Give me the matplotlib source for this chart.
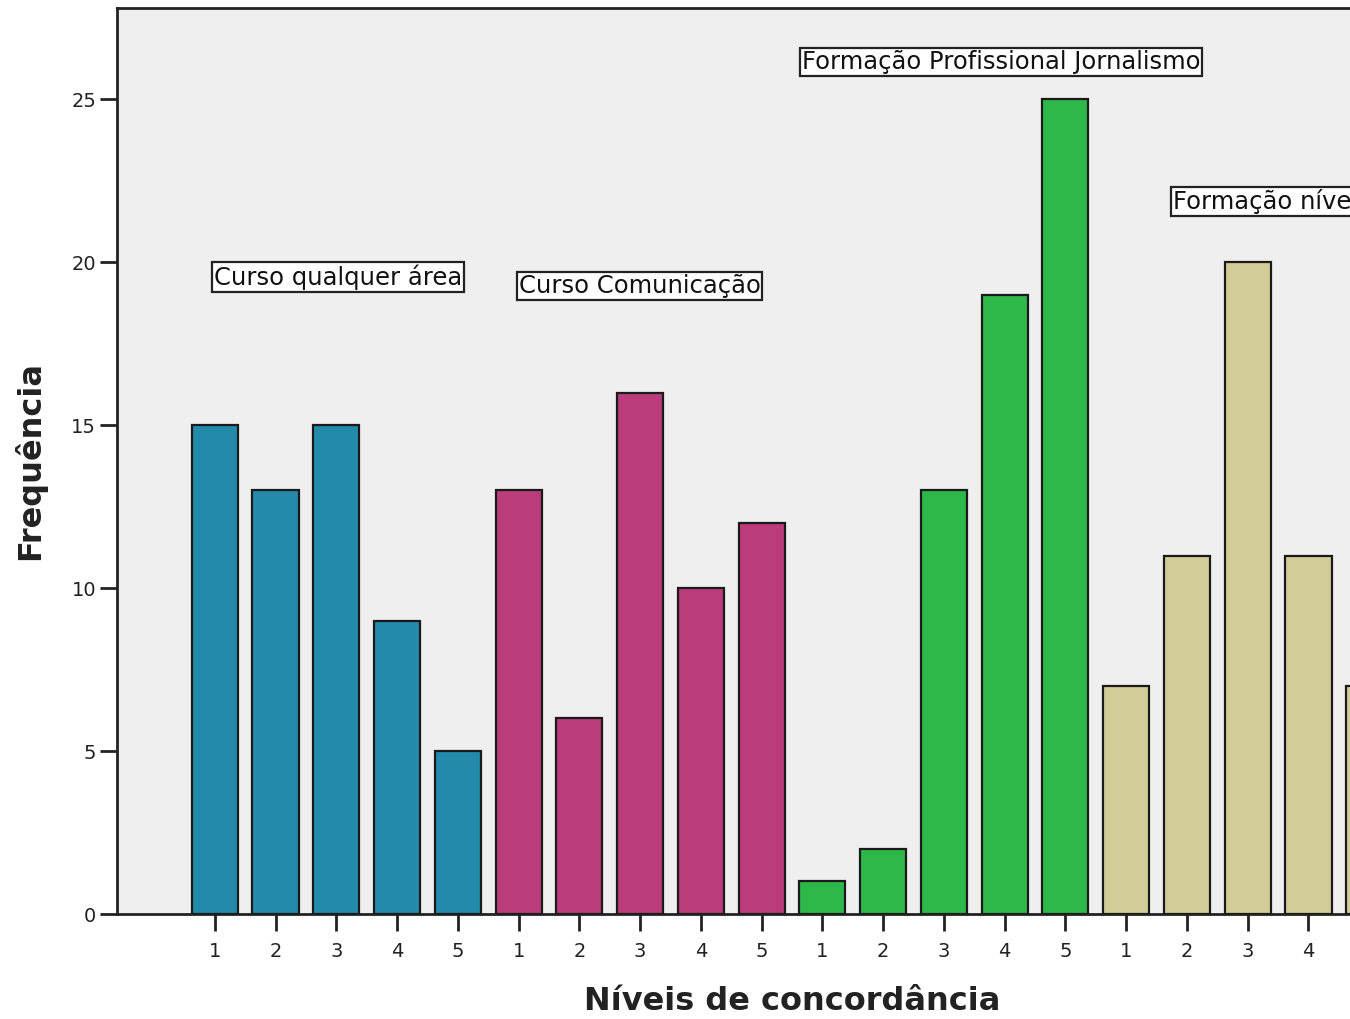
import matplotlib
matplotlib.use("Agg")
import matplotlib.pyplot as plt
import numpy as np

# Frequency of each agreement level (1-5) for every training group
levels = ["1", "2", "3", "4", "5"]
groups = [
    "Curso qualquer área",
    "Curso Comunicação",
    "Formação Profissional Jornalismo",
    "Formação nível superior",
]
freq_qualquer_area = [15, 13, 15, 9, 5]
freq_comunicacao = [13, 6, 16, 10, 12]
freq_jornalismo = [1, 2, 13, 19, 25]
freq_nivel_superior = [7, 11, 20, 11, 7]
group_colors = ["#238aab", "#ba3c7a", "#2eb84a", "#d2cd98"]

# Label box anchors (left x in bar units, y in frequency units)
label_x = [-0.02, 5.0, 9.66, 15.77]
label_y = [19.55, 19.28, 26.13, 21.85]

series = [freq_qualquer_area, freq_comunicacao, freq_jornalismo, freq_nivel_superior]

W, H = 1350, 1019
fig = plt.figure(figsize=(W / 100, H / 100), dpi=100)
ax = fig.add_axes([117 / W, (H - 914) / H, 1350 / W, 906 / H])
ax.set_facecolor("#efefef")

pos = 0
tick_pos, tick_lab = [], []
for vals, col in zip(series, group_colors):
    x = np.arange(pos, pos + len(vals))
    ax.bar(x, vals, width=0.76, color=col, edgecolor="#1a1a1a", linewidth=1.6, zorder=3)
    tick_pos.extend(x)
    tick_lab.extend(levels)
    pos += len(vals)

for name, lx, ly in zip(groups, label_x, label_y):
    ax.text(lx, ly, name, ha="left", va="center", fontsize=17.5, color="#111111",
            bbox=dict(boxstyle="square,pad=0.08", facecolor="white",
                      edgecolor="#222222", linewidth=1.6), zorder=5)

ax.set_xlim(-1.61, pos - 1 + 1.61)
ax.set_ylim(0, 27.8)
ax.set_xticks(tick_pos)
ax.set_xticklabels(tick_lab)
ax.set_yticks([0, 5, 10, 15, 20, 25])

ax.tick_params(axis="both", direction="out", length=12, width=2, color="#222222",
               labelsize=14, labelcolor="#222222")
ax.tick_params(axis="x", pad=8)
ax.tick_params(axis="y", pad=3)
for side in ["left", "top", "bottom", "right"]:
    ax.spines[side].set_linewidth(2)
    ax.spines[side].set_color("#222222")

ax.set_xlabel("Níveis de concordância", fontsize=23, fontweight="bold",
              color="#222222", labelpad=18)
ax.set_ylabel("Frequência", fontsize=23, fontweight="bold",
              color="#222222", labelpad=18)

fig.savefig("out.png", dpi=100)
